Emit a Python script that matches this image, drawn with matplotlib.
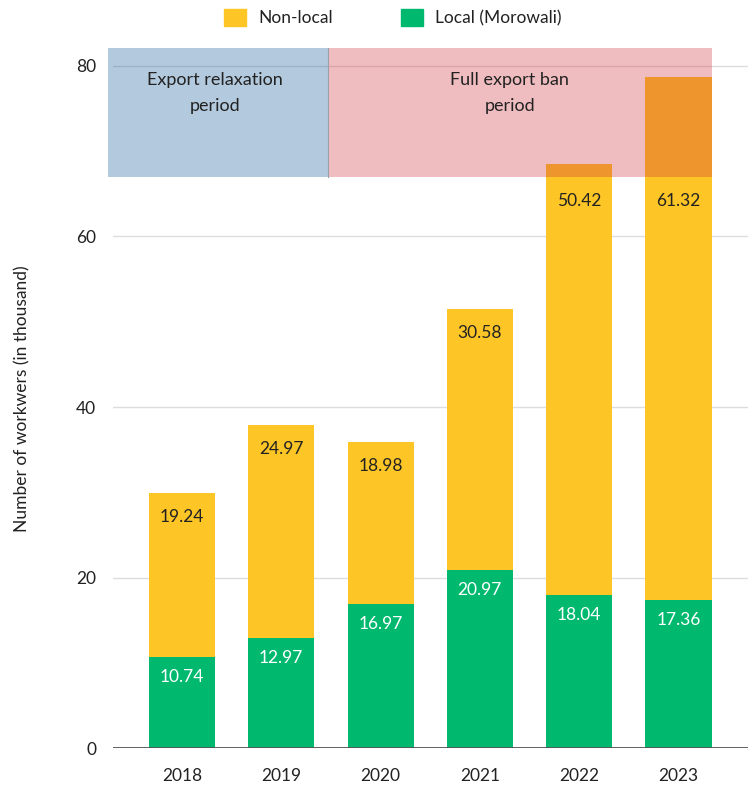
import matplotlib.pyplot as plt
from matplotlib.patches import Patch, Rectangle
import matplotlib.transforms as mtransforms

plt.rcParams['font.family'] = ['Lato', 'DejaVu Sans']

years = ['2018', '2019', '2020', '2021', '2022', '2023']
local = [10.74, 12.97, 16.97, 20.97, 18.04, 17.36]
non_local = [19.24, 24.97, 18.98, 30.58, 50.42, 61.32]

periods = ['Export relaxation\nperiod', 'Full export ban\nperiod']

YELLOW = '#FDC526'
GREEN = '#00B96F'
TXT = '#222222'

fig = plt.figure(figsize=(7.48, 7.85), dpi=100)
ax = fig.add_axes([0.151, 0.0465, 0.849, 0.8925])

x = list(range(len(years)))
w = 0.665
ax.bar(x, local, width=w, color=GREEN, zorder=2)
ax.bar(x, non_local, width=w, bottom=local, color=YELLOW, zorder=2)

ax.set_xlim(-0.695, 5.70)
ax.set_ylim(0, 82.1)
ax.set_yticks([0, 20, 40, 60, 80])
ax.set_xticks(x)
ax.set_xticklabels(years)
ax.grid(axis='y', color='#dddddd', lw=1, zorder=0)
ax.axhline(0, color='#555555', lw=1.3, zorder=3)
for s in ax.spines.values():
    s.set_visible(False)
ax.tick_params(length=0, labelsize=12.5, colors=TXT)
ax.tick_params(axis='x', pad=14)
ax.tick_params(axis='y', pad=12)
ax.set_ylabel('Number of workwers (in thousand)', fontsize=12.5, color=TXT, labelpad=33)

# shaded period bands, drawn above the bars
band_lo, band_hi = 67, 82.1
ax.add_patch(Rectangle((-0.745, band_lo), 1.47 + 0.745, band_hi - band_lo,
                       facecolor=(25/255, 91/255, 152/255), alpha=0.33,
                       lw=0, zorder=4, clip_on=False))
ax.add_patch(Rectangle((1.47, band_lo), 5.335 - 1.47, band_hi - band_lo,
                       facecolor=(209/255, 52/255, 61/255), alpha=0.33,
                       lw=0, zorder=4, clip_on=False))
ax.plot([1.47, 1.47], [band_lo, band_hi], color='#9aa0b0', lw=0.8, zorder=5)
ax.text(0.33, 76.8, periods[0], ha='center', va='center', fontsize=13,
        color=TXT, linespacing=1.75, zorder=6)
ax.text(3.30, 76.8, periods[1], ha='center', va='center', fontsize=13,
        color=TXT, linespacing=1.75, zorder=6)

# value labels
for i in x:
    top = local[i] + non_local[i]
    off = mtransforms.offset_copy(ax.transData, fig=fig, y=-24, units='dots')
    ax.text(i, min(top, band_lo), f'{non_local[i]:.2f}', ha='center', va='center',
            fontsize=12.5, color=TXT, transform=off, zorder=6)
    off2 = mtransforms.offset_copy(ax.transData, fig=fig, y=-20, units='dots')
    ax.text(i, local[i], f'{local[i]:.2f}', ha='center', va='center',
            fontsize=12.5, color='white', transform=off2, zorder=6)

handles = [Patch(color=YELLOW), Patch(color=GREEN)]
fig.legend(handles, ['Non-local', 'Local (Morowali)'], loc='center',
           bbox_to_anchor=(0.525, 0.978), ncol=2, frameon=False, fontsize=12.5,
           handlelength=1.3, handleheight=1.15, handletextpad=0.7,
           columnspacing=3.9, labelcolor=TXT)

fig.savefig('out.png', dpi=100)
